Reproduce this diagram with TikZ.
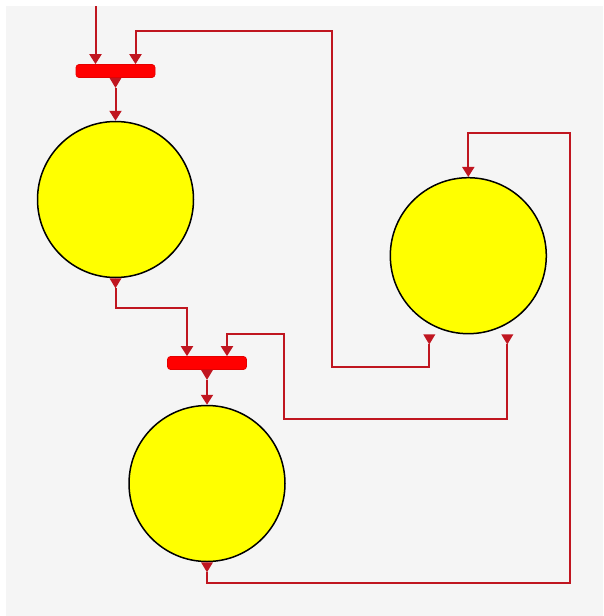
\documentclass[tikz,border=0pt]{standalone}
\usetikzlibrary{arrows.meta}
\definecolor{wirecol}{RGB}{192,22,32}
\definecolor{panel}{RGB}{245,245,245}
\definecolor{placefill}{RGB}{255,255,0}
\definecolor{transfill}{RGB}{255,0,0}
\definecolor{transedge}{RGB}{228,0,0}
\begin{document}
\begin{tikzpicture}[x=1pt,y=-1pt,
  place/.style={circle,draw=black,line width=1.5pt,fill=placefill,minimum size=156pt,inner sep=0pt},
  trans/.style={rectangle,rounded corners=3pt,draw=transedge,line width=0.7pt,fill=transfill,minimum width=79pt,minimum height=13pt,inner sep=0pt},
  wire/.style={draw=wirecol,line width=2pt,-{Triangle[width=12pt,length=10pt]}},
  outport/.pic={\fill[wirecol] (-6pt,0pt) -- (6pt,0pt) -- (0pt,-10pt) -- cycle;}]
  % canvas and panel
  \fill[white] (0,0) rectangle (603,616);
  \fill[panel] (6,6) rectangle (603,616);
  \useasboundingbox (0,0) rectangle (603,616);

  % places and transitions
  \node[place] (p1) at (115.5,199.5) {};
  \node[place] (p2) at (207,483.5) {};
  \node[place] (p3) at (468.3,255.7) {};
  \node[trans] (t1) at (115.5,71) {};
  \node[trans] (t2) at (207,363) {};

  % port positions
  \coordinate (src) at (95.5,6);
  \coordinate (t1i1) at ([xshift=-20pt]t1.north);
  \coordinate (t1i2) at ([xshift=20pt]t1.north);
  \coordinate (t2i1) at ([xshift=-20pt]t2.north);
  \coordinate (t2i2) at ([xshift=20pt]t2.north);
  \coordinate (p3o1) at ([xshift=-39pt]p3.south);
  \coordinate (p3o2) at ([xshift=39pt]p3.south);

  % bends of the routed wires
  \coordinate (a1) at (332,367.3);
  \coordinate (a2) at (332,31.3);
  \coordinate (b1) at (283.5,418.5);
  \coordinate (b2) at (283.5,334.3);
  \coordinate (k1) at (187,307.5);
  \coordinate (r1) at (570,583);
  \coordinate (r2) at (570,133);

  % output port markers
  \pic at (t1.south) {outport};
  \pic at (t2.south) {outport};
  \pic at (p1.south) {outport};
  \pic at (p2.south) {outport};
  \pic at (p3o1) {outport};
  \pic at (p3o2) {outport};

  % arcs
  \draw[wire] (src) -- (t1i1);
  \draw[wire] ([yshift=-10pt]t1.south) -- (p1.north);
  \draw[wire] ([yshift=-10pt]t2.south) -- (p2.north);
  \draw[wire] ([yshift=-10pt]p1.south) |- (k1) -- (t2i1);
  \draw[wire] ([yshift=-10pt]p3o1) |- (a1) -- (a2) -| (t1i2);
  \draw[wire] ([yshift=-10pt]p3o2) |- (b1) -- (b2) -| (t2i2);
  \draw[wire] ([yshift=-10pt]p2.south) |- (r1) -- (r2) -| (p3.north);
\end{tikzpicture}
\end{document}
